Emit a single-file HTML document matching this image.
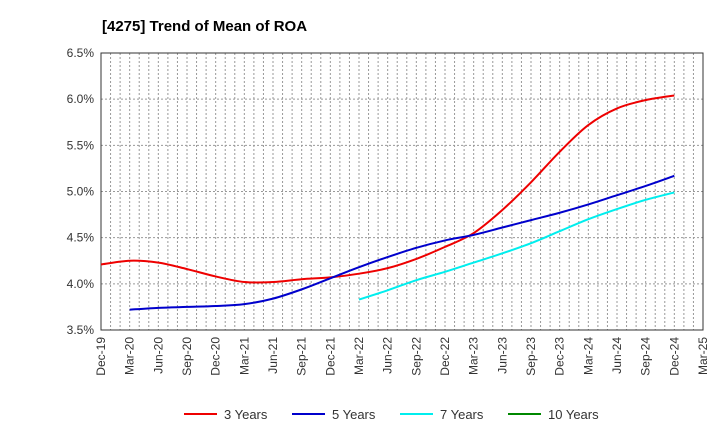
<!DOCTYPE html>
<html><head><meta charset="utf-8"><style>
body{margin:0;background:#fff;font-family:"Liberation Sans",sans-serif;}
</style></head><body>
<svg id="chart" width="720" height="440" xmlns="http://www.w3.org/2000/svg">
<text x="102" y="31" font-size="15" font-weight="bold" fill="#000">[4275]  Trend of Mean of ROA</text>
<g id="grid"></g><g id="axes"></g><g id="series"></g><g id="legend"></g>
</svg>
<script>
const xLabels=["Dec-19","Mar-20","Jun-20","Sep-20","Dec-20","Mar-21","Jun-21","Sep-21","Dec-21","Mar-22","Jun-22","Sep-22","Dec-22","Mar-23","Jun-23","Sep-23","Dec-23","Mar-24","Jun-24","Sep-24","Dec-24","Mar-25"];
const yTicks=[3.5,4.0,4.5,5.0,5.5,6.0,6.5];
const s3=[4.21,4.25,4.23,4.16,4.08,4.02,4.02,4.05,4.07,4.11,4.17,4.27,4.40,4.55,4.80,5.10,5.43,5.72,5.90,5.99,6.04];
const s3Start=0;
const s5=[3.72,3.74,3.75,3.76,3.78,3.84,3.94,4.06,4.18,4.29,4.39,4.47,4.53,4.61,4.69,4.77,4.86,4.96,5.06,5.17];
const s5Start=1;
const s7=[3.83,3.93,4.04,4.13,4.23,4.33,4.44,4.57,4.70,4.81,4.91,4.99];
const s7Start=9;
const s10=[];
const s10Start=0;
const NS="http://www.w3.org/2000/svg";
const L=101,R=703,T=53,B=330;
const X=q=>L+(R-L)*q/(xLabels.length-1);
const Y=v=>B-(B-T)*(v-3.5)/3.0;
function mk(tag,attrs,parent){const e=document.createElementNS(NS,tag);for(const k in attrs)e.setAttribute(k,attrs[k]);parent.appendChild(e);return e;}
const grid=document.getElementById('grid'),axes=document.getElementById('axes'),ser=document.getElementById('series'),leg=document.getElementById('legend');
for(let m=1;m<(xLabels.length-1)*3;m++){const x=L+(R-L)*m/((xLabels.length-1)*3);
const g=mk('line',{x1:x,x2:x,y1:T,y2:B,stroke:'#999','stroke-dasharray':'2,2','stroke-width':1},grid);

}
yTicks.forEach(v=>{const y=Y(v);
if(v>3.5&&v<6.5){const g=mk('line',{x1:L,x2:R,y1:y,y2:y,stroke:'#999','stroke-dasharray':'2,2'},grid);

}
const t=mk('text',{x:L-7,y:y+4,'text-anchor':'end','font-size':12,fill:'#333'},axes);t.textContent=v.toFixed(1)+'%';

});
const fr=mk('rect',{x:L,y:T,width:R-L,height:B-T,fill:'none',stroke:'#333','stroke-width':1},axes);


xLabels.forEach((s,i)=>{const x=X(i);const t=mk('text',{transform:`translate(${x+4},${B+7}) rotate(-90)`,'text-anchor':'end','font-size':12,fill:'#333'},axes);t.textContent=s;

});
function path(data,start){if(!data.length)return '';const p=data.map((v,i)=>[X(start+i),Y(v)]);let d=`M${p[0][0]},${p[0][1]}`;
for(let i=0;i<p.length-1;i++){const p0=p[i-1]||p[i],p1=p[i],p2=p[i+1],p3=p[i+2]||p2;
d+=` C${p1[0]+(p2[0]-p0[0])/6},${p1[1]+(p2[1]-p0[1])/6} ${p2[0]-(p3[0]-p1[0])/6},${p2[1]-(p3[1]-p1[1])/6} ${p2[0]},${p2[1]}`;}return d;}
const series=[[s3,s3Start,'#e00','3 Years','series-3-years'],[s5,s5Start,'#00c','5 Years','series-5-years'],[s7,s7Start,'#0ee','7 Years','series-7-years'],[s10,s10Start,'#080','10 Years','series-10-years']];
series.forEach(([d,st,c,n,nm],k)=>{if(d.length){const p=mk('path',{d:path(d,st),fill:'none',stroke:c,'stroke-width':2},ser);

}
const lx=[184,292,400,508][k];
const g=mk('g',{},leg);


mk('line',{x1:lx,x2:lx+33,y1:414,y2:414,stroke:c,'stroke-width':2},g);
const t=mk('text',{x:lx+40,y:419,'font-size':13,fill:'#333'},g);t.textContent=n;});
</script>
</body></html>
